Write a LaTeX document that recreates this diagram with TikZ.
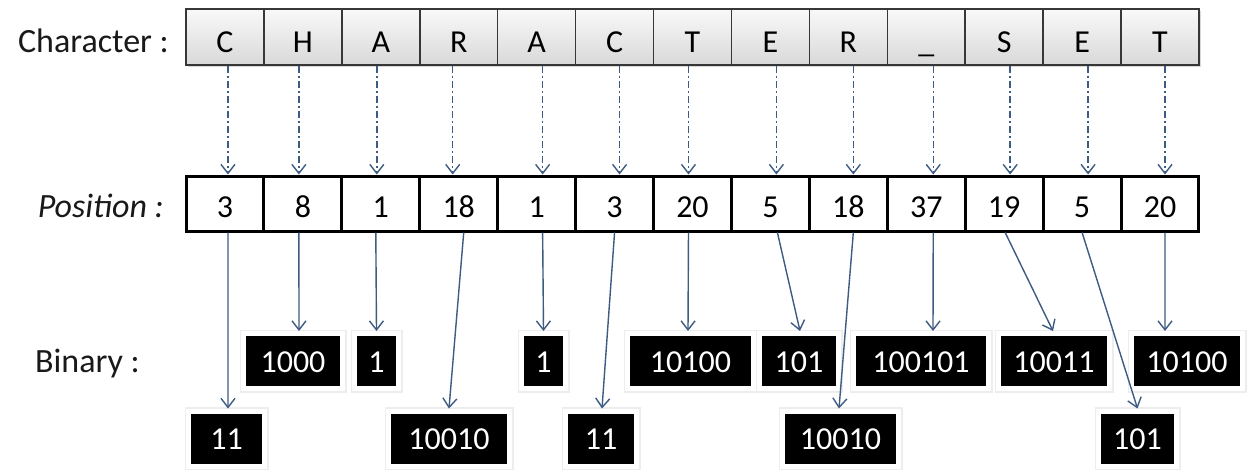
\documentclass[tikz,border=0pt]{standalone}
\usepackage{fontspec}
\setmainfont{Carlito}
\usetikzlibrary{arrows.meta,shadows,calc}
\definecolor{conn}{RGB}{62,92,130}
\definecolor{cellline}{RGB}{55,55,55}
\begin{document}
\begin{tikzpicture}[x=1pt,y=-1pt,
  txt/.style={font=\fontsize{32}{38}\selectfont},
  charcell/.style={txt, draw=cellline, line width=1.5pt, top color=gray!5, bottom color=gray!30,
    minimum width=77.92pt, minimum height=56pt, inner sep=0pt, text height=30pt, text depth=0pt,
    drop shadow={opacity=0.3, shadow xshift=2pt, shadow yshift=-2pt}},
  poscell/.style={txt, draw=black, line width=3pt, fill=white,
    minimum width=77.92pt, minimum height=55pt, inner sep=0pt, text height=27pt, text depth=0pt},
  binbox/.style={txt, fill=black, draw=white, line width=5pt, text=white, inner sep=0pt,
    minimum height=55pt, text height=22pt, text depth=0pt,
    preaction={draw=black!7, line width=8pt}},
  lbl/.style={font=\fontsize{34}{40}\selectfont, inner sep=0pt, text=black!90, anchor=east},
  arr/.style={draw=conn, line width=1.4pt, -{Straight Barb[length=9pt,width=14pt]}},
  dasharr/.style={arr, dash pattern=on 7pt off 3pt on 2pt off 3pt}
]
\fill[white] (0,0) rectangle (1248,472);
\useasboundingbox (0,0) rectangle (1248,472);

% labels
\node[lbl, text height=30pt, text depth=0pt] (lchar) at (169,37) {Character :};
\node[lbl, text height=27pt, text depth=0pt] (lpos) at (164,203.5) {\itshape Position :};
\node[lbl, text height=22pt, text depth=0pt] (lbin) at (140,361) {Binary :};

% character row
\foreach \t [count=\i] in {C,H,A,R,A,C,T,E,R,{\_},S,E,T}
  \node[charcell] (c\i) at ({186+77.92*(\i-0.5)},37) {\t};

% position row
\foreach \t [count=\i] in {3,8,1,18,1,3,20,5,18,37,19,5,20}
  \node[poscell] (p\i) at ({186+77.92*(\i-0.5)},203.5) {\t};

% binary boxes
\node[binbox, minimum width=76pt]  (b1)  at (226.5,438.5) {11};
\node[binbox, minimum width=99pt]  (b2)  at (293,361) {1000};
\node[binbox, minimum width=44pt]  (b3)  at (376.5,361) {1};
\node[binbox, minimum width=121pt] (b4)  at (449,438.5) {10010};
\node[binbox, minimum width=44pt]  (b5)  at (543.5,361) {1};
\node[binbox, minimum width=71pt]  (b6)  at (601,438.5) {11};
\node[binbox, minimum width=126pt] (b7)  at (690.5,361) {10100};
\node[binbox, minimum width=79pt]  (b8)  at (799,361) {101};
\node[binbox, minimum width=116pt] (b9)  at (840.5,438.5) {10010};
\node[binbox, minimum width=135pt] (b10) at (921,361) {100101};
\node[binbox, minimum width=111pt] (b11) at (1054,361) {10011};
\node[binbox, minimum width=78pt]  (b12) at (1137.5,438.5) {101};
\node[binbox, minimum width=111pt] (b13) at (1187,361) {10100};

% dashed connectors character -> position
\foreach \i/\d in {1/3,2/-4,3/-4,4/-6,5/6,6/5,7/-4,8/6,9/5,10/7,11/6,12/6,13/5}
  \draw[dasharr] ([xshift=\d pt]c\i.south) -- ([xshift=\d pt]p\i.north);

% solid connectors position -> binary
\foreach \i/\a/\b in {1/3/1.5,2/-4/6,3/-5/0,4/5/0,5/6/0,6/0/1,7/-4/-2.5,8/7/1,9/5/-1.5,10/7/12,11/1/-1,12/0/0,13/5/-22}
  \draw[arr] ([xshift=\a pt]p\i.south) -- ([xshift=\b pt]b\i.north);
\end{tikzpicture}
\end{document}
